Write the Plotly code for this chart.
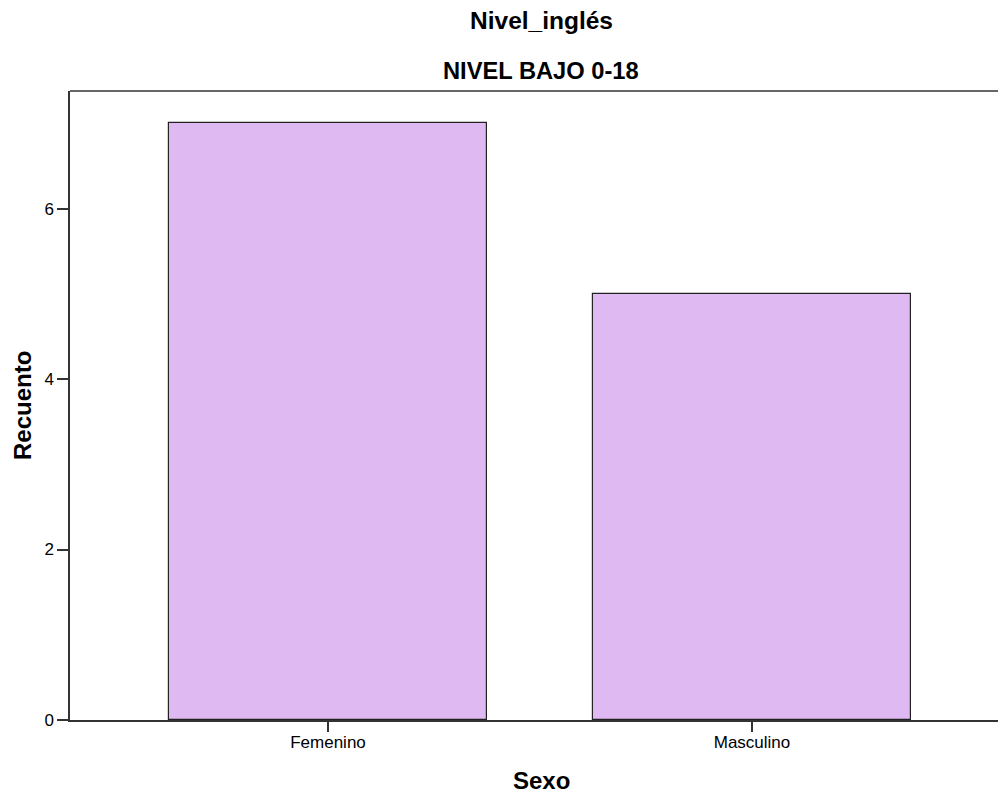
import plotly.graph_objects as go

categories = ["Femenino", "Masculino"]
counts = [7, 5]
y_ticks = [0, 2, 4, 6]
title_main = "Nivel_inglés"
title_sub = "NIVEL BAJO 0-18"
x_title = "Sexo"
y_title = "Recuento"

FONT = "Liberation Sans, Arial, sans-serif"
AXIS_COLOR = "#333333"

# Plot area on screen: x 70..998, y 91..720 (body margin removed below)
PX_L, PX_R, PY_T, PY_B = 70.0, 998.0, 91.0, 720.0


def px(xs):
    return (xs - PX_L) / (PX_R - PX_L)


def py(ys):
    return (PY_B - ys) / (PY_B - PY_T)


fig = go.Figure()
fig.add_trace(go.Bar(
    x=[0, 1],
    y=counts,
    width=0.75,
    marker=dict(color="#DEB9F2", line=dict(color="#222222", width=1.2)),
    showlegend=False,
    hoverinfo="skip",
))

fig.update_layout(
    width=998, height=795,
    margin=dict(l=70, r=0, t=91, b=75),
    paper_bgcolor="white", plot_bgcolor="white",
    font=dict(family=FONT, color="black"),
    bargap=0,
    annotations=[
        dict(text="<b>" + title_main + "</b>", x=px(541), y=py(21),
             xref="paper", yref="paper", showarrow=False, font=dict(size=24.5, family=FONT),
             xanchor="center", yanchor="middle"),
        dict(text="<b>" + title_sub + "</b>", x=px(541), y=py(71),
             xref="paper", yref="paper", showarrow=False, font=dict(size=23.7, family=FONT),
             xanchor="center", yanchor="middle"),
        dict(text="<b>" + x_title + "</b>", x=px(541), y=py(780),
             xref="paper", yref="paper", showarrow=False, font=dict(size=24, family=FONT),
             xanchor="center", yanchor="middle"),
        dict(text="<b>" + y_title + "</b>", x=px(22.5), y=py(405.5), textangle=-90,
             xref="paper", yref="paper", showarrow=False, font=dict(size=24, family=FONT),
             xanchor="center", yanchor="middle"),
    ],
    shapes=[
        dict(type="line", xref="paper", yref="paper", x0=0, x1=1, y0=1, y1=1,
             line=dict(color=AXIS_COLOR, width=1.5)),
    ],
)

fig.update_xaxes(
    range=[-0.6085, 1.5802],
    tickmode="array", tickvals=[0, 1], ticktext=categories,
    showline=True, linecolor=AXIS_COLOR, linewidth=1.5,
    ticks="outside", ticklen=10, tickcolor=AXIS_COLOR, tickwidth=1.5,
    tickfont=dict(size=17, family=FONT, color="black"),
    ticklabelstandoff=-4,
    showgrid=False, zeroline=False,
)
fig.update_yaxes(
    range=[0, 7.38],
    tickmode="array", tickvals=y_ticks,
    showline=True, linecolor=AXIS_COLOR, linewidth=1.5,
    ticks="outside", ticklen=11, tickcolor=AXIS_COLOR, tickwidth=1.5,
    tickfont=dict(size=17, family=FONT, color="black"),
    showgrid=False, zeroline=False,
)

fig.write_html(
    "out.html",
    config={"displayModeBar": False},
    post_script="document.body.style.margin='0';document.body.style.overflow='hidden';",
)
